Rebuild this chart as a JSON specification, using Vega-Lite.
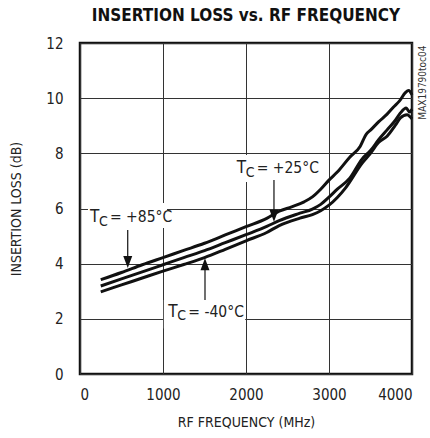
{
  "$schema": "https://vega.github.io/schema/vega-lite/v6.json",
  "width": 332,
  "height": 331,
  "autosize": {"type": "none"},
  "padding": {"left": 80, "top": 43, "right": 18, "bottom": 64},
  "background": "white",
  "title": {
    "text": "INSERTION LOSS vs. RF FREQUENCY",
    "font": "DejaVu Sans Condensed, Roboto, sans-serif",
    "fontSize": 17,
    "fontWeight": "bold",
    "color": "#111",
    "anchor": "middle",
    "frame": "group",
    "offset": 11
  },
  "config": {
    "font": "DejaVu Sans Condensed, Roboto, sans-serif",
    "view": {"stroke": "#111", "strokeWidth": 2.5},
    "axis": {
      "grid": true,
      "gridColor": "#333",
      "gridWidth": 1,
      "gridOpacity": 1,
      "domain": false,
      "ticks": false,
      "labelFont": "DejaVu Sans Condensed, Roboto, sans-serif",
      "labelFontSize": 15,
      "labelColor": "#222",
      "titleFont": "DejaVu Sans Condensed, Roboto, sans-serif",
      "titleFontSize": 14,
      "titleFontWeight": "normal",
      "titleColor": "#222"
    }
  },
  "datasets": {
    "curves": [
      {"series": "+85", "freq": 250, "il": 3.42},
      {"series": "+85", "freq": 500, "il": 3.68},
      {"series": "+85", "freq": 750, "il": 3.96},
      {"series": "+85", "freq": 1000, "il": 4.22},
      {"series": "+85", "freq": 1250, "il": 4.48},
      {"series": "+85", "freq": 1500, "il": 4.74},
      {"series": "+85", "freq": 1750, "il": 5.04},
      {"series": "+85", "freq": 2000, "il": 5.34},
      {"series": "+85", "freq": 2250, "il": 5.64},
      {"series": "+85", "freq": 2400, "il": 5.9},
      {"series": "+85", "freq": 2550, "il": 6.06},
      {"series": "+85", "freq": 2700, "il": 6.24},
      {"series": "+85", "freq": 2800, "il": 6.42},
      {"series": "+85", "freq": 2900, "il": 6.7},
      {"series": "+85", "freq": 3000, "il": 7.03},
      {"series": "+85", "freq": 3100, "il": 7.32},
      {"series": "+85", "freq": 3250, "il": 7.86},
      {"series": "+85", "freq": 3375, "il": 8.25},
      {"series": "+85", "freq": 3450, "il": 8.7},
      {"series": "+85", "freq": 3500, "il": 8.84},
      {"series": "+85", "freq": 3600, "il": 9.15},
      {"series": "+85", "freq": 3700, "il": 9.42},
      {"series": "+85", "freq": 3775, "il": 9.67},
      {"series": "+85", "freq": 3850, "il": 9.9},
      {"series": "+85", "freq": 3920, "il": 10.2},
      {"series": "+85", "freq": 3960, "il": 10.28},
      {"series": "+85", "freq": 4000, "il": 10.12},
      {"series": "+25", "freq": 250, "il": 3.19},
      {"series": "+25", "freq": 500, "il": 3.45},
      {"series": "+25", "freq": 750, "il": 3.7},
      {"series": "+25", "freq": 1000, "il": 3.96},
      {"series": "+25", "freq": 1250, "il": 4.22},
      {"series": "+25", "freq": 1500, "il": 4.47},
      {"series": "+25", "freq": 1750, "il": 4.76},
      {"series": "+25", "freq": 2000, "il": 5.05},
      {"series": "+25", "freq": 2250, "il": 5.35},
      {"series": "+25", "freq": 2400, "il": 5.56},
      {"series": "+25", "freq": 2650, "il": 5.83},
      {"series": "+25", "freq": 2800, "il": 5.98},
      {"series": "+25", "freq": 2900, "il": 6.15},
      {"series": "+25", "freq": 3000, "il": 6.41},
      {"series": "+25", "freq": 3100, "il": 6.7},
      {"series": "+25", "freq": 3250, "il": 7.1},
      {"series": "+25", "freq": 3400, "il": 7.8},
      {"series": "+25", "freq": 3500, "il": 8.1},
      {"series": "+25", "freq": 3600, "il": 8.5},
      {"series": "+25", "freq": 3700, "il": 8.85},
      {"series": "+25", "freq": 3800, "il": 9.2},
      {"series": "+25", "freq": 3860, "il": 9.46},
      {"series": "+25", "freq": 3930, "il": 9.64},
      {"series": "+25", "freq": 3970, "il": 9.5},
      {"series": "+25", "freq": 4000, "il": 9.6},
      {"series": "-40", "freq": 250, "il": 2.98},
      {"series": "-40", "freq": 500, "il": 3.23},
      {"series": "-40", "freq": 750, "il": 3.48},
      {"series": "-40", "freq": 1000, "il": 3.73},
      {"series": "-40", "freq": 1250, "il": 3.97},
      {"series": "-40", "freq": 1500, "il": 4.22},
      {"series": "-40", "freq": 1750, "il": 4.52},
      {"series": "-40", "freq": 2000, "il": 4.83},
      {"series": "-40", "freq": 2250, "il": 5.13},
      {"series": "-40", "freq": 2400, "il": 5.38},
      {"series": "-40", "freq": 2650, "il": 5.65},
      {"series": "-40", "freq": 2800, "il": 5.78},
      {"series": "-40", "freq": 2900, "il": 5.92},
      {"series": "-40", "freq": 3000, "il": 6.12},
      {"series": "-40", "freq": 3100, "il": 6.4},
      {"series": "-40", "freq": 3200, "il": 6.75},
      {"series": "-40", "freq": 3400, "il": 7.65},
      {"series": "-40", "freq": 3500, "il": 8.0},
      {"series": "-40", "freq": 3600, "il": 8.4},
      {"series": "-40", "freq": 3700, "il": 8.62},
      {"series": "-40", "freq": 3800, "il": 9.02},
      {"series": "-40", "freq": 3860, "il": 9.28},
      {"series": "-40", "freq": 3940, "il": 9.4},
      {"series": "-40", "freq": 4000, "il": 9.25}
    ],
    "labels": [
      {"series": "+85", "lx": 120, "ly": 5.51, "rest": "= +85°C", "bx1": 96, "bx2": 1048, "by1": 5.29, "by2": 6.2, "ax": 575, "ay1": 5.22, "ay2": 4.2, "tip": 3.84, "dir": "down"},
      {"series": "+25", "lx": 1888, "ly": 7.27, "rest": "= +25°C", "bx1": 1855, "bx2": 2795, "by1": 6.96, "by2": 7.94, "ax": 2337, "ay1": 7.03, "ay2": 5.9, "tip": 5.52, "dir": "down"},
      {"series": "-40", "lx": 1064, "ly": 2.08, "rest": "= -40°C", "bx1": 1010, "bx2": 1990, "by1": 1.65, "by2": 2.68, "ax": 1506, "ay1": 2.68, "ay2": 3.8, "tip": 4.2, "dir": "up"}
    ]
  },
  "resolve": {"axis": {"y": "independent"}},
  "layer": [
    {
      "data": {"name": "curves"},
      "mark": {"type": "line", "color": "#111", "strokeWidth": 3, "interpolate": "monotone", "strokeJoin": "round"},
      "encoding": {
        "x": {"field": "freq", "type": "quantitative", "scale": {"domain": [0, 4000], "nice": false},
              "axis": {"values": [0, 1000, 2000, 3000, 4000], "format": "d", "title": "RF FREQUENCY (MHz)", "labelPadding": 13, "titlePadding": 13}},
        "y": {"field": "il", "type": "quantitative", "scale": {"domain": [0, 12], "nice": false},
              "axis": {"values": [0, 2, 4, 6, 8, 10, 12], "title": "INSERTION LOSS (dB)", "labelPadding": 17, "titlePadding": 22}},
        "detail": {"field": "series"}
      }
    },
    {
      "data": {"name": "labels"},
      "mark": {"type": "rect", "color": "white"},
      "encoding": {
        "x": {"field": "bx1", "type": "quantitative"},
        "x2": {"field": "bx2"},
        "y": {"field": "by1", "type": "quantitative", "axis": null},
        "y2": {"field": "by2"}
      }
    },
    {
      "data": {"name": "labels"},
      "mark": {"type": "rule", "color": "#111", "strokeWidth": 1.2},
      "encoding": {
        "x": {"field": "ax", "type": "quantitative"},
        "y": {"field": "ay1", "type": "quantitative", "axis": null},
        "y2": {"field": "ay2"}
      }
    },
    {
      "data": {"name": "labels"},
      "transform": [{"filter": "datum.dir === 'down'"}],
      "mark": {"type": "point", "shape": "M-0.75,-2L0.75,-2L0,0Z", "size": 144, "filled": true, "color": "#111", "opacity": 1},
      "encoding": {
        "x": {"field": "ax", "type": "quantitative"},
        "y": {"field": "tip", "type": "quantitative", "axis": null}
      }
    },
    {
      "data": {"name": "labels"},
      "transform": [{"filter": "datum.dir === 'up'"}],
      "mark": {"type": "point", "shape": "M-0.75,2L0.75,2L0,0Z", "size": 144, "filled": true, "color": "#111", "opacity": 1},
      "encoding": {
        "x": {"field": "ax", "type": "quantitative"},
        "y": {"field": "tip", "type": "quantitative", "axis": null}
      }
    },
    {
      "data": {"name": "labels"},
      "mark": {"type": "text", "text": "T", "fontSize": 17, "align": "left", "baseline": "alphabetic", "color": "#222"},
      "encoding": {
        "x": {"field": "lx", "type": "quantitative"},
        "y": {"field": "ly", "type": "quantitative", "axis": null}
      }
    },
    {
      "data": {"name": "labels"},
      "mark": {"type": "text", "text": "C", "fontSize": 14, "align": "left", "baseline": "alphabetic", "dx": 9, "dy": 3.5, "color": "#222"},
      "encoding": {
        "x": {"field": "lx", "type": "quantitative"},
        "y": {"field": "ly", "type": "quantitative", "axis": null}
      }
    },
    {
      "data": {"name": "labels"},
      "mark": {"type": "text", "fontSize": 15.5, "align": "left", "baseline": "alphabetic", "dx": 20, "color": "#222"},
      "encoding": {
        "x": {"field": "lx", "type": "quantitative"},
        "y": {"field": "ly", "type": "quantitative", "axis": null},
        "text": {"field": "rest"}
      }
    },
    {
      "data": {"values": [{"k": 12}]},
      "mark": {"type": "point", "opacity": 0},
      "encoding": {
        "y": {"field": "k", "type": "quantitative",
              "axis": {"orient": "right", "grid": false, "labels": false, "title": "MAX19790toc04", "titleFontSize": 10, "titleAngle": 270, "titleAlign": "right", "titleBaseline": "middle", "titleX": 10, "titleY": 2, "titleColor": "#333"}}
      }
    }
  ]
}
